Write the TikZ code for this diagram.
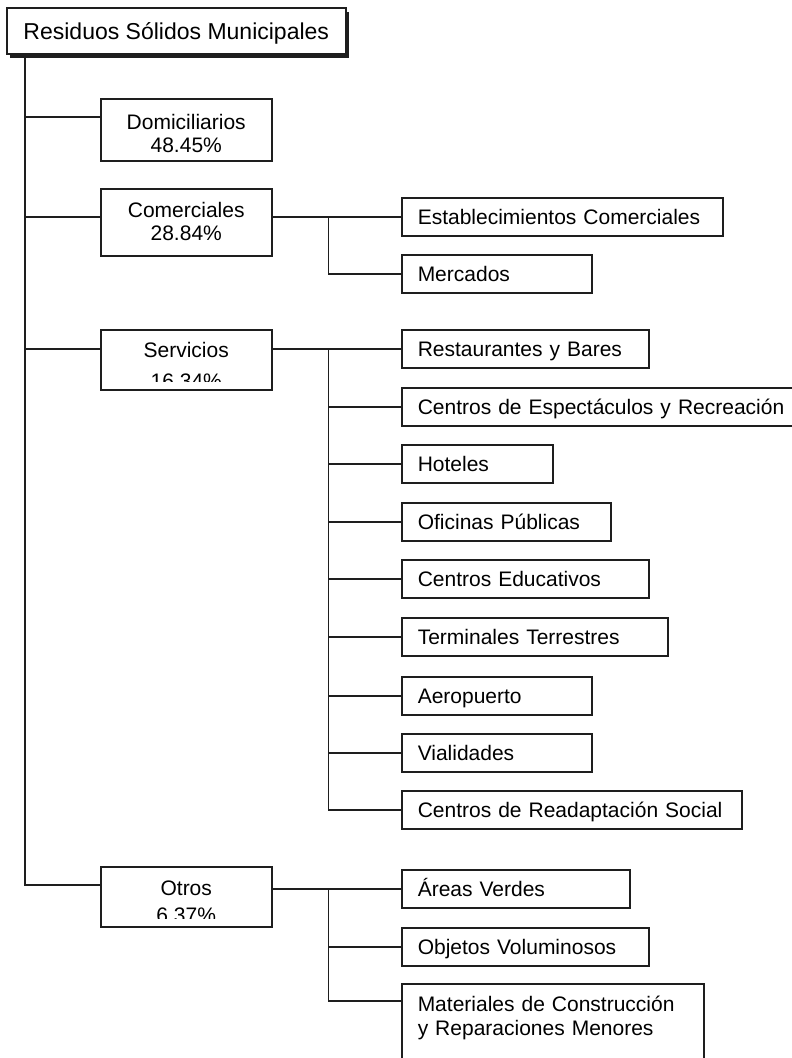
\documentclass[tikz,border=0pt]{standalone}
\usepackage{fontspec}
\setmainfont{Liberation Sans}
\usetikzlibrary{shadows}
\definecolor{ink}{HTML}{1E1E1E}
\newcommand{\boxfont}{\fontsize{21pt}{23pt}\selectfont}
\begin{document}
\begin{tikzpicture}[x=1pt,y=-1pt,
  conn/.style={draw=ink, line width=1.5pt},
  box/.style={draw=ink, line width=1.5pt, fill=white, inner sep=0pt,
    anchor=north west, text=black},
  rootbox/.style={box, font=\fontsize{23pt}{27pt}\selectfont,
    minimum width=339pt, minimum height=46pt,
    text height=16.5pt, text depth=0pt,
    drop shadow={shadow xshift=3pt, shadow yshift=-4pt, opacity=1, fill=ink}},
  catbox/.style={box, font=\boxfont, minimum width=171pt, align=center},
  leaf/.style={box, font=\boxfont, inner xsep=16pt, minimum height=38pt,
    align=left, text height=15pt, text depth=0pt, text width=#1},
  cattext/.style={inner sep=0pt, anchor=base, align=center, text=black}
]
\useasboundingbox (0,0) rectangle (792,1058);

% root of the classification
\node[rootbox] (root) at (6,7) {Residuos Sólidos Municipales};

% first level (the node baseline is that of the last line)
\node[catbox, text height=54pt, text depth=8pt] (dom) at (100,98)
  {Domiciliarios\\48.45\%};
\node[catbox, text height=52pt, text depth=15pt] (com) at (100,188)
  {Comerciales\\28.84\%};
\node[catbox, minimum height=60pt] (serv) at (100,329) {};
\node[catbox, minimum height=60pt] (otros) at (100,866) {};

% the lower line of these two labels is cut off by the box
\begin{scope}
  \clip (serv.north west) rectangle ([yshift=9pt]serv.south east);
  \node[cattext, font=\fontsize{21pt}{31pt}\selectfont] (servtxt)
    at ([yshift=-59pt]serv.north) {Servicios\\16.34\%};
\end{scope}
\begin{scope}
  \clip (otros.north west) rectangle ([yshift=9pt]otros.south east);
  \node[cattext, font=\fontsize{21pt}{27pt}\selectfont] (otrostxt)
    at ([yshift=-56pt]otros.north) {Otros\\6.37\%};
\end{scope}

% commercial sources
\node[leaf=289pt] (estab) at (401,197) {Establecimientos Comerciales};
\node[leaf=158pt] (merc)  at (401,254) {Mercados};

% services
\node[leaf=215pt] (rest) at (401,329) {Restaurantes y Bares};
\node[leaf=378pt] (cesp) at (401,387) {Centros de Espectáculos y Recreación};
\node[leaf=119pt] (hot)  at (401,444) {Hoteles};
\node[leaf=177pt] (ofi)  at (401,502) {Oficinas Públicas};
\node[leaf=215pt] (edu)  at (401,559) {Centros Educativos};
\node[leaf=234pt] (term) at (401,617) {Terminales Terrestres};
\node[leaf=158pt] (aero) at (401,676) {Aeropuerto};
\node[leaf=158pt] (vial) at (401,733) {Vialidades};
\node[leaf=308pt] (read) at (401,790) {Centros de Readaptación Social};

% other sources
\node[leaf=196pt] (areas) at (401,869) {Áreas Verdes};
\node[leaf=215pt] (obj)   at (401,927) {Objetos Voluminosos};
\node[leaf=270pt, text height=28pt, text depth=62pt, font=\fontsize{21pt}{24pt}\selectfont]
  (mat) at (401,983) {Materiales de Construcción\\y Reparaciones Menores};

% main trunk
\coordinate (t0) at ([xshift=19pt]root.south west);
\coordinate (domin) at ([yshift=-19pt]dom.north west);
\coordinate (comin) at (com.west |- estab.west);
\coordinate (servin) at (serv.west |- rest.west);
\coordinate (otrosin) at ([yshift=-19pt]otros.north west);
\draw[conn] (t0) |- (otrosin);
\draw[conn] (domin) -- (t0 |- domin);
\draw[conn] (comin) -- (t0 |- comin);
\draw[conn] (servin) -- (t0 |- servin);

% commercial branch
\path (com.east) ++(56pt,0) coordinate (cj);
\draw[conn] (com.east |- estab.west) -- (estab.west);
\draw[conn] (cj |- estab.west) |- (merc.west);

% services branch
\path (serv.east) ++(56pt,0) coordinate (sj);
\draw[conn] (serv.east |- rest.west) -- (rest.west);
\draw[conn] (sj |- rest.west) |- (read.west);
\foreach \n in {cesp,hot,ofi,edu,term,aero,vial}
  \draw[conn] (sj |- \n.west) -- (\n.west);

% other branch
\path (otros.east) ++(56pt,0) coordinate (oj);
\coordinate (matin) at ([yshift=-18pt]mat.north west);
\draw[conn] (otros.east |- areas.west) -- (areas.west);
\draw[conn] (oj |- areas.west) |- (matin);
\draw[conn] (oj |- obj.west) -- (obj.west);
\end{tikzpicture}
\end{document}
